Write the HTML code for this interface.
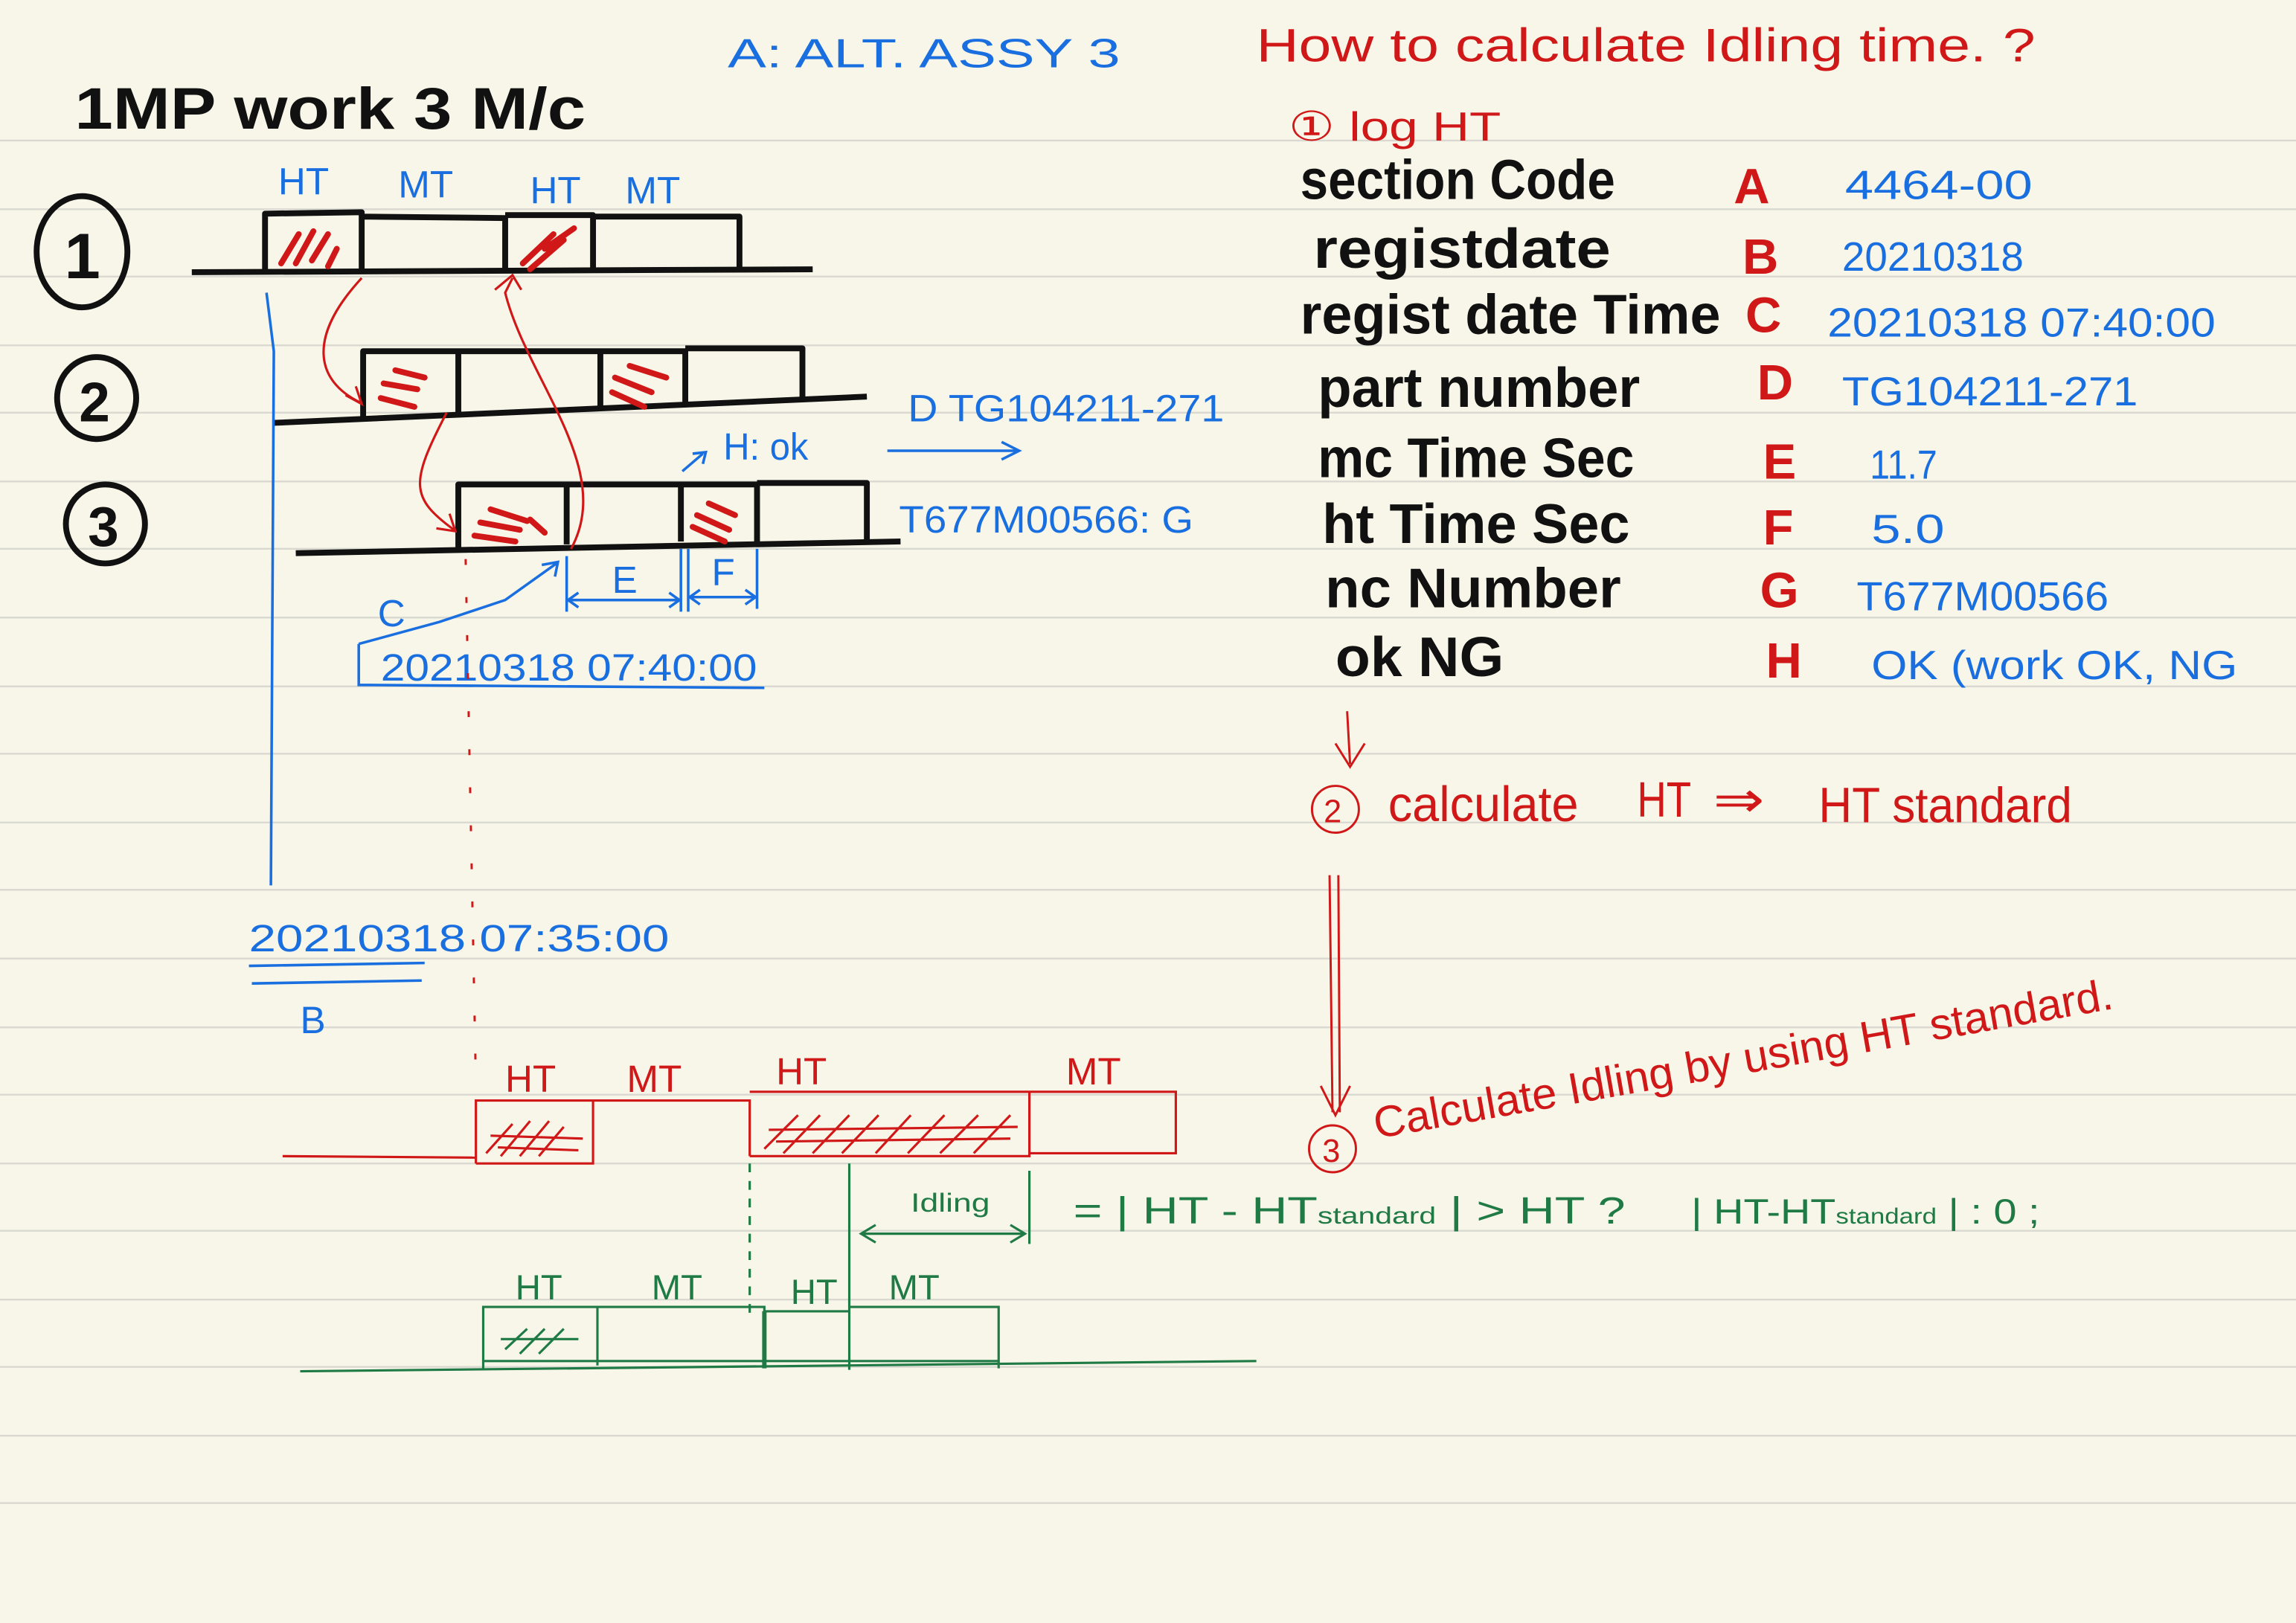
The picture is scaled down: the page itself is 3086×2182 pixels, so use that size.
<!DOCTYPE html>
<html><head><meta charset="utf-8"><style>
html,body{margin:0;padding:0;background:#f8f6e8;}
svg{display:block}
text{font-family:"Liberation Sans",sans-serif}
.k{fill:#111;font-weight:bold}
.b{fill:#1a6fe0}
.r{fill:#d01818}
.g{fill:#1f7a45}
</style></head><body>
<svg width="3086" height="2182" viewBox="0 0 1568 1109" preserveAspectRatio="none" xmlns="http://www.w3.org/2000/svg">
<rect width="1568" height="1109" fill="#f8f6e8"/>
<g stroke="#d9d9d2" stroke-width="1.2">
<line x1="0" y1="96" x2="1568" y2="96"/><line x1="0" y1="143" x2="1568" y2="143"/><line x1="0" y1="189" x2="1568" y2="189"/><line x1="0" y1="236" x2="1568" y2="236"/><line x1="0" y1="282" x2="1568" y2="282"/><line x1="0" y1="329" x2="1568" y2="329"/><line x1="0" y1="375" x2="1568" y2="375"/><line x1="0" y1="422" x2="1568" y2="422"/><line x1="0" y1="469" x2="1568" y2="469"/><line x1="0" y1="515" x2="1568" y2="515"/><line x1="0" y1="562" x2="1568" y2="562"/><line x1="0" y1="608" x2="1568" y2="608"/><line x1="0" y1="655" x2="1568" y2="655"/><line x1="0" y1="702" x2="1568" y2="702"/><line x1="0" y1="748" x2="1568" y2="748"/><line x1="0" y1="795" x2="1568" y2="795"/><line x1="0" y1="841" x2="1568" y2="841"/><line x1="0" y1="888" x2="1568" y2="888"/><line x1="0" y1="934" x2="1568" y2="934"/><line x1="0" y1="981" x2="1568" y2="981"/><line x1="0" y1="1027" x2="1568" y2="1027"/>
</g>

<text x="51" y="88" class="k" font-size="40" textLength="349" lengthAdjust="spacingAndGlyphs">1MP work  3 M/c</text>
<text x="497" y="46" class="b" font-size="28" textLength="268" lengthAdjust="spacingAndGlyphs">A: ALT. ASSY 3</text>
<text x="858" y="42" class="r" font-size="32" textLength="532" lengthAdjust="spacingAndGlyphs">How to calculate Idling time. ?</text>
<text x="880" y="96" class="r" font-size="28" textLength="145" lengthAdjust="spacingAndGlyphs">① log HT</text>

<g class="k" font-size="38" lengthAdjust="spacingAndGlyphs">
<text x="888" y="136" textLength="215" lengthAdjust="spacingAndGlyphs">section Code</text>
<text x="897" y="183" textLength="203" lengthAdjust="spacingAndGlyphs">registdate</text>
<text x="888" y="228" textLength="287" lengthAdjust="spacingAndGlyphs">regist date Time</text>
<text x="900" y="278" textLength="220" lengthAdjust="spacingAndGlyphs">part number</text>
<text x="900" y="326" textLength="216" lengthAdjust="spacingAndGlyphs">mc Time Sec</text>
<text x="903" y="371" textLength="210" lengthAdjust="spacingAndGlyphs">ht Time Sec</text>
<text x="905" y="415" textLength="202" lengthAdjust="spacingAndGlyphs">nc Number</text>
<text x="912" y="462" textLength="115" lengthAdjust="spacingAndGlyphs">ok NG</text>
</g>
<g class="r" font-size="34" font-weight="bold">
<text x="1184" y="139">A</text><text x="1190" y="187">B</text><text x="1192" y="227">C</text><text x="1200" y="273">D</text><text x="1204" y="327">E</text><text x="1204" y="372">F</text><text x="1202" y="415">G</text><text x="1206" y="463">H</text>
</g>
<g class="b" font-size="28">
<text x="1260" y="136" textLength="128" lengthAdjust="spacingAndGlyphs">4464-00</text>
<text x="1258" y="185" textLength="124" lengthAdjust="spacingAndGlyphs">20210318</text>
<text x="1248" y="230" textLength="265" lengthAdjust="spacingAndGlyphs">20210318   07:40:00</text>
<text x="1258" y="277" textLength="202" lengthAdjust="spacingAndGlyphs">TG104211-271</text>
<text x="1277" y="327" textLength="46" lengthAdjust="spacingAndGlyphs">11.7</text>
<text x="1278" y="371" textLength="50" lengthAdjust="spacingAndGlyphs">5.0</text>
<text x="1268" y="417" textLength="172" lengthAdjust="spacingAndGlyphs">T677M00566</text>
<text x="1278" y="464" textLength="250" lengthAdjust="spacingAndGlyphs">OK (work OK, NG</text>
</g>

<g stroke="#d01818" fill="none" stroke-width="1.5">
<path d="M920 486 L922 522 M912 508 L922 524 L932 508"/>
<circle cx="912" cy="553" r="16"/>
<path d="M908 598 L910 760 M914 598 L915 760 M902 742 L912 762 L922 742"/>
<circle cx="910" cy="785" r="16"/>
</g>
<text x="904" y="562" class="r" font-size="22">2</text>
<text x="903" y="794" class="r" font-size="22">3</text>
<g class="r" font-size="34">
<text x="948" y="561" textLength="130" lengthAdjust="spacingAndGlyphs">calculate</text>
<text x="1118" y="558" textLength="37" lengthAdjust="spacingAndGlyphs">HT</text>
<text x="1170" y="558" textLength="35" lengthAdjust="spacingAndGlyphs">⇒</text>
<text x="1242" y="562" textLength="173" lengthAdjust="spacingAndGlyphs">HT standard</text>
</g>
<text x="940" y="778" class="r" font-size="30" transform="rotate(-10 940 778)" textLength="512" lengthAdjust="spacingAndGlyphs">Calculate Idling by using  HT standard.</text>

<text x="733" y="836" class="g" font-size="26" textLength="377" lengthAdjust="spacingAndGlyphs">= | HT - HT<tspan font-size="16">standard</tspan> | &gt; HT ?</text>
<text x="1155" y="836" class="g" font-size="24" textLength="238" lengthAdjust="spacingAndGlyphs">| HT-HT<tspan font-size="15">standard</tspan> | : 0 ;</text>

<g stroke="#111" stroke-width="4" fill="none">
<ellipse cx="56" cy="172" rx="31" ry="38"/>
<ellipse cx="66" cy="272" rx="27" ry="28"/>
<ellipse cx="72" cy="358" rx="27" ry="27"/>
</g>
<text x="44" y="190" class="k" font-size="44">1</text>
<text x="54" y="288" class="k" font-size="38">2</text>
<text x="60" y="373" class="k" font-size="38">3</text>

<g class="b" font-size="26">
<text x="190" y="133">HT</text><text x="272" y="135">MT</text><text x="362" y="139">HT</text><text x="427" y="139">MT</text>
</g>

<g stroke="#111" stroke-width="4" fill="none" stroke-linejoin="round">
<path d="M131 186 L555 184"/>
<path d="M181 187 L181 146 L247 145 L247 187 M247 148 L345 149 L345 185 M345 147 L405 147 L405 185 M405 148 L505 148 L505 184"/>
<path d="M186 289 L592 271"/>
<path d="M248 285 L248 240 L313 240 L313 283 M313 240 L410 240 L410 280 M410 240 L468 240 L468 278 M468 238 L548 238 L548 272"/>
<path d="M202 378 L615 370"/>
<path d="M313 374 L313 331 L387 331 L387 372 M387 331 L465 331 L465 370 M465 331 L517 331 L517 370 M517 330 L592 330 L592 370"/>
</g>
<g stroke="#d01818" stroke-width="4" stroke-linecap="round">
<path d="M192 180 L204 160 M202 180 L214 158 M213 178 L224 160 M224 182 L230 170"/>
<path d="M357 180 L378 160 M362 184 L385 164 M372 170 L392 156"/>
<path d="M260 272 L283 278 M262 262 L285 266 M270 253 L290 258"/>
<path d="M418 268 L440 278 M420 258 L445 268 M430 250 L455 258"/>
<path d="M324 366 L352 370 M328 357 L355 362 M335 348 L360 356 M362 355 L372 364"/>
<path d="M473 360 L495 370 M476 352 L498 362 M484 344 L502 352"/>
</g>
<g stroke="#d01818" stroke-width="1.6" fill="none">
<path d="M247 190 C210 230 215 260 246 275 M236 270 L247 276 L243 264"/>
<path d="M390 375 C420 320 360 260 345 200 L350 190 M338 198 L350 188 L356 198"/>
<path d="M305 282 C280 330 280 340 310 362 M298 361 L311 363 L307 351"/>
</g>

<g stroke="#1a6fe0" stroke-width="1.8" fill="none">
<path d="M182 200 L187 240 L185 605"/>
<path d="M606 308 L696 308 M684 302 L696 308 L684 314"/>
<path d="M466 322 L480 310 M473 310 L482 309 L480 317"/>
<path d="M387 380 L387 418 M465 375 L465 418 M470 375 L470 418 M517 375 L517 416"/>
<path d="M388 410 L464 410 M395 405 L388 410 L395 415 M457 405 L464 410 L457 415"/>
<path d="M471 408 L516 408 M478 403 L471 408 L478 413 M509 403 L516 408 L509 413"/>
<path d="M245 440 L245 468 L522 470 M245 440 L300 425 L345 410 L380 385 M370 386 L381 384 L379 394"/>
<path d="M170 660 L290 658 M172 672 L288 670"/>
</g>
<g class="b" font-size="26">
<text x="620" y="288" textLength="216" lengthAdjust="spacingAndGlyphs">D  TG104211-271</text>
<text x="494" y="314" textLength="58" lengthAdjust="spacingAndGlyphs">H: ok</text>
<text x="614" y="364" textLength="201" lengthAdjust="spacingAndGlyphs">T677M00566: G</text>
<text x="418" y="405">E</text><text x="486" y="400">F</text>
<text x="258" y="428">C</text>
<text x="260" y="465" textLength="257" lengthAdjust="spacingAndGlyphs">20210318   07:40:00</text>
<text x="170" y="650" textLength="287" lengthAdjust="spacingAndGlyphs">20210318  07:35:00</text>
<text x="205" y="706">B</text>
</g>

<path d="M318 382 L325 740" stroke="#d01818" stroke-width="1.5" stroke-dasharray="4 22" fill="none"/>

<g stroke="#d01818" stroke-width="1.6" fill="none">
<path d="M193 790 L325 791"/>
<path d="M325 795 L325 752 L405 752 L405 795 L325 795 M405 752 L512 752 L512 790 M512 746 L703 746 L703 790 L512 790 M703 746 L803 746 L803 788 L703 788"/>
<path d="M332 788 L350 768 M342 790 L362 766 M355 790 L375 766 M368 790 L385 770 M335 776 L398 778 M340 784 L395 786"/>
<path d="M522 785 L545 762 M535 788 L560 762 M555 788 L580 762 M575 788 L600 762 M598 788 L622 762 M620 788 L645 762 M642 788 L668 762 M665 788 L690 762 M525 772 L695 770 M530 780 L690 778"/>
</g>
<g class="r" font-size="26">
<text x="345" y="746">HT</text><text x="428" y="746">MT</text><text x="530" y="741">HT</text><text x="728" y="741">MT</text>
</g>

<g stroke="#1f7a45" stroke-width="1.6" fill="none">
<path d="M512 795 L512 900" stroke-dasharray="6 6"/>
<path d="M580 795 L580 936 M703 800 L703 850"/>
<path d="M588 843 L700 843 M598 837 L588 843 L598 849 M690 837 L700 843 L690 849"/>
<path d="M205 937 L858 930"/>
<path d="M330 935 L330 893 L408 893 L408 933 M408 893 L522 893 L522 933 M522 896 L580 896 M580 893 L682 893 L682 935 M330 930 L682 930"/>
<path d="M522 896 L522 935" stroke-width="3"/>
<path d="M345 922 L360 908 M355 925 L372 908 M368 925 L385 908 M342 915 L395 915"/>
</g>
<g class="g" font-size="24">
<text x="352" y="888">HT</text><text x="445" y="888">MT</text><text x="540" y="891">HT</text><text x="607" y="888">MT</text>
<text x="622" y="828" font-size="18" textLength="54" lengthAdjust="spacingAndGlyphs">Idling</text>
</g>
</svg>
</body></html>
